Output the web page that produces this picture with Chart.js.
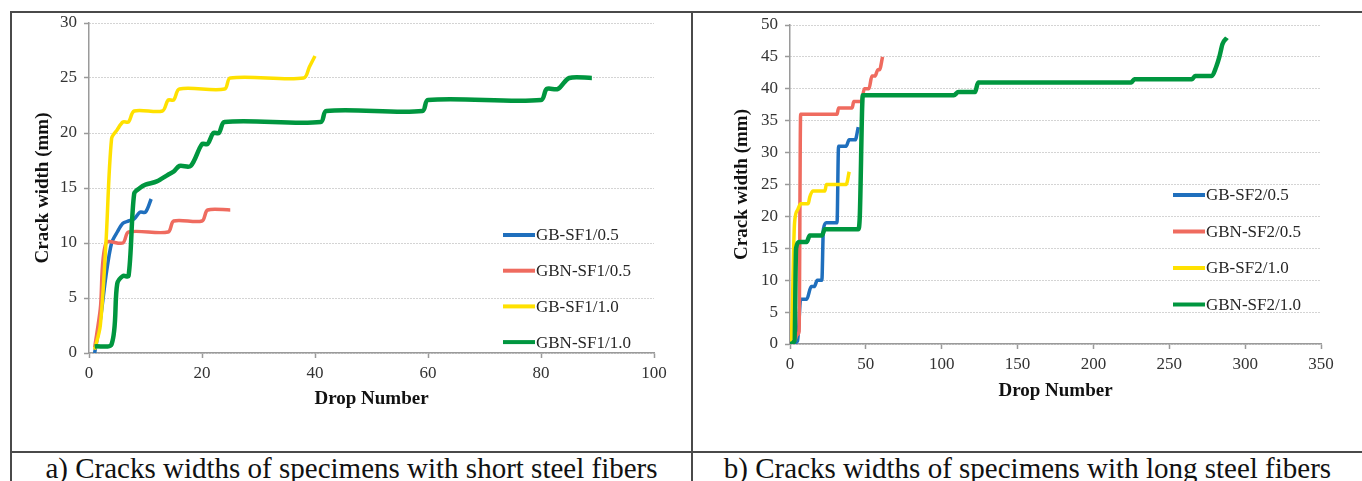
<!doctype html>
<html>
<head>
<meta charset="UTF-8">
<title>Crack widths</title>
<script src="https://cdn.jsdelivr.net/npm/chart.js@4.4.1/dist/chart.umd.min.js"></script>
<style>
    body {
        margin: 0;
        background: #fff;
        width: 1362px;
        height: 481px;
        overflow: hidden;
        position: relative;
        font-family: 'Liberation Serif', 'Times New Roman', serif;
    }
    .rule {
        position: absolute;
        background: #4a4a4a;
        z-index: 2;
    }
    canvas {
        position: absolute;
        top: 0;
    }
    .caption {
        position: absolute;
        top: 454px;
        font-size: 29px;
        line-height: 29px;
        text-align: center;
        color: #111;
        white-space: nowrap;
    }
</style>
</head>
<body>
<div class="rule" style="left:11px; top:11px; width:1351px; height:2px"></div>
<div class="rule" style="left:11px; top:451px; width:1351px; height:2px"></div>
<div class="rule" style="left:10px; top:11px; width:2px; height:470px"></div>
<div class="rule" style="left:691px; top:11px; width:2px; height:470px"></div>

<canvas id="short-fibers" width="680" height="452" style="left:12px"></canvas>
<canvas id="long-fibers" width="669" height="452" style="left:693px"></canvas>

<div class="caption" style="left:12px; width:679px">a) Cracks widths of specimens with short steel fibers</div>
<div class="caption" style="left:693px; width:669px">b) Cracks widths of specimens with long steel fibers</div>

<script>
    // series names and colours
    var seriesShort = ['GB-SF1/0.5', 'GBN-SF1/0.5', 'GB-SF1/1.0', 'GBN-SF1/1.0'];
    var seriesLong = ['GB-SF2/0.5', 'GBN-SF2/0.5', 'GB-SF2/1.0', 'GBN-SF2/1.0'];
    var seriesColors = ['#1f6fbd', '#ef6b5f', '#ffe100', '#00963f'];
    var seriesWidths = [3.5, 3.5, 3.5, 4.5];

    // a) short steel fibers : drop number / crack width (mm)
    var gbSf1_05Drops = [1, 2, 3, 4, 5, 6, 7, 8, 9, 10, 11];
    var gbSf1_05Width = [0, 3, 7, 10, 11, 11.8, 12, 12.2, 12.8, 12.8, 14];

    var gbnSf1_05Drops = [1, 2, 3, 6, 7, 14, 15, 20, 21, 25];
    var gbnSf1_05Width = [0.5, 4, 10, 10, 11, 11, 12, 12, 13, 13];

    var gbSf1_10Drops = [1, 2, 3, 4, 5, 6, 7, 8, 13, 14, 15, 16, 24, 25, 38, 39, 40];
    var gbSf1_10Width = [0.3, 2.5, 10, 19.5, 20.3, 21, 21, 22, 22, 23, 23, 24, 24, 25, 25, 26, 27];

    var gbnSf1_10Drops = [1, 4, 5, 6, 7, 8, 9, 10, 12, 14, 15, 16, 18, 20, 21, 22, 23, 24, 41, 42, 59, 60, 80, 81, 83, 85, 89];
    var gbnSf1_10Width = [0.6, 0.8, 6.3, 7, 7, 14.5, 15, 15.3, 15.6, 16.2, 16.5, 17, 17, 19, 19, 20, 20, 21, 21, 22, 22, 23, 23, 24, 24, 25, 25];

    // b) long steel fibers
    var gbSf2_05Drops = [0, 5, 7, 11, 14, 16, 18, 21, 22, 24, 31, 32, 37, 39, 43, 45];
    var gbSf2_05Width = [0, 0.5, 7, 7, 9, 9, 10, 10, 18, 19, 19, 31, 31, 32, 32, 34];

    var gbnSf2_05Drops = [0, 3, 5, 6, 7, 31, 32, 41, 42, 47, 49, 52, 54, 56, 58, 59, 61];
    var gbnSf2_05Width = [0, 0.5, 1.5, 2, 36, 36, 37, 37, 38, 38, 40, 40, 42, 42, 43, 43, 45];

    var gbSf2_10Drops = [0, 1, 3, 5, 7, 12, 13, 15, 23, 24, 37, 39];
    var gbSf2_10Width = [0, 1.5, 19, 21, 22, 22, 23, 24, 24, 25, 25, 27];

    var gbnSf2_10Drops = [0, 3, 4, 6, 11, 13, 21, 23, 45, 46, 48, 108, 111, 122, 124, 225, 227, 265, 267, 278, 281, 283, 284, 285, 288];
    var gbnSf2_10Width = [0, 0.5, 15, 16, 16, 17, 17, 18, 18, 20, 39, 39, 39.5, 39.5, 41, 41, 41.5, 41.5, 42, 42, 43.5, 45, 46, 47, 48];

    var FONT = "'Liberation Serif', 'Times New Roman', serif";

    function toPoints(xs, ys) {
        var pts = [];
        for (var i = 0; i < xs.length; i++) {
            pts.push({x: xs[i], y: ys[i]});
        }
        return pts;
    }

    // legend drawn as short line + label, inside the plot
    var lineLegend = {
        id: 'lineLegend',
        afterDraw: function (chart, args, opts) {
            var ctx = chart.ctx;
            ctx.save();
            ctx.font = '17px ' + FONT;
            ctx.textBaseline = 'middle';
            ctx.fillStyle = '#262626';
            chart.data.datasets.forEach(function (ds, i) {
                var y = opts.y + i * opts.step;
                ctx.strokeStyle = ds.borderColor;
                ctx.lineWidth = 4;
                ctx.beginPath();
                ctx.moveTo(opts.x, y);
                ctx.lineTo(opts.x + 32, y);
                ctx.stroke();
                ctx.fillText(ds.label, opts.x + 33, y + 1);
            });
            ctx.restore();
        }
    };

    function makeChart(id, names, series, o) {
        var datasets = [];
        for (var i = 0; i < names.length; i++) {
            datasets.push({
                label: names[i],
                data: toPoints(series[i][0], series[i][1]),
                borderColor: seriesColors[i],
                backgroundColor: seriesColors[i],
                borderWidth: seriesWidths[i],
                pointRadius: 0,
                tension: o.tension,
                cubicInterpolationMode: o.mode,
                fill: false,
                order: names.length - i
            });
        }
        var axisGray = '#9a9a9a';
        return new Chart(document.getElementById(id), {
            type: 'line',
            data: {datasets: datasets},
            plugins: [lineLegend],
            options: {
                responsive: false,
                animation: false,
                devicePixelRatio: 1,
                layout: {padding: o.padding},
                plugins: {
                    legend: {display: false},
                    tooltip: {enabled: false},
                    lineLegend: o.legend
                },
                scales: {
                    x: {
                        type: 'linear',
                        min: 0,
                        max: o.xMax,
                        ticks: {stepSize: o.xStep, font: {family: FONT, size: 17}, color: '#333', padding: 5, maxRotation: 0},
                        grid: {drawOnChartArea: false, drawTicks: true, tickLength: 5, tickColor: axisGray, tickWidth: 1.5},
                        border: {color: axisGray, width: 1.5},
                        title: {
                            display: true, text: 'Drop Number', color: '#111',
                            font: {family: FONT, size: 19, weight: 'bold'},
                            padding: {top: 0, bottom: o.xTitlePad}
                        },
                        afterFit: function (s) { s.height = 70; }
                    },
                    y: {
                        min: 0,
                        max: o.yMax,
                        ticks: {stepSize: 5, font: {family: FONT, size: 17}, color: '#333', padding: 7},
                        grid: {color: '#a8a8a8', lineWidth: 1, tickLength: 5, tickColor: axisGray, tickWidth: 1.5},
                        border: {color: axisGray, width: 1.5, dash: [1, 2]},
                        title: {
                            display: true, text: 'Crack width (mm)', color: '#111',
                            font: {family: FONT, size: 19, weight: 'bold'},
                            padding: {top: o.yTitlePad, bottom: 0}
                        },
                        afterFit: function (s) { s.width = o.yWidth; }
                    }
                }
            }
        });
    }

    // short fibres: smoothed curves
    makeChart('short-fibers', seriesShort, [
        [gbSf1_05Drops, gbSf1_05Width],
        [gbnSf1_05Drops, gbnSf1_05Width],
        [gbSf1_10Drops, gbSf1_10Width],
        [gbnSf1_10Drops, gbnSf1_10Width]
    ], {
        xMax: 100, xStep: 20, yMax: 30, tension: 0.3, mode: 'default',
        padding: {left: 0, top: 23, right: 38, bottom: 29},
        yWidth: 77, yTitlePad: 19.6, xTitlePad: 12.6,
        legend: {x: 491, y: 235, step: 35.7}
    });

    // long fibres: sharp steps, no overshoot
    makeChart('long-fibers', seriesLong, [
        [gbSf2_05Drops, gbSf2_05Width],
        [gbnSf2_05Drops, gbnSf2_05Width],
        [gbSf2_10Drops, gbSf2_10Width],
        [gbnSf2_10Drops, gbnSf2_10Width]
    ], {
        xMax: 350, xStep: 50, yMax: 50, tension: 0, mode: 'monotone',
        padding: {left: 0, top: 25, right: 41, bottom: 38},
        yWidth: 97, yTitlePad: 37.6, xTitlePad: 11.6,
        legend: {x: 480, y: 195, step: 36.5}
    });
</script>
</body>
</html>
